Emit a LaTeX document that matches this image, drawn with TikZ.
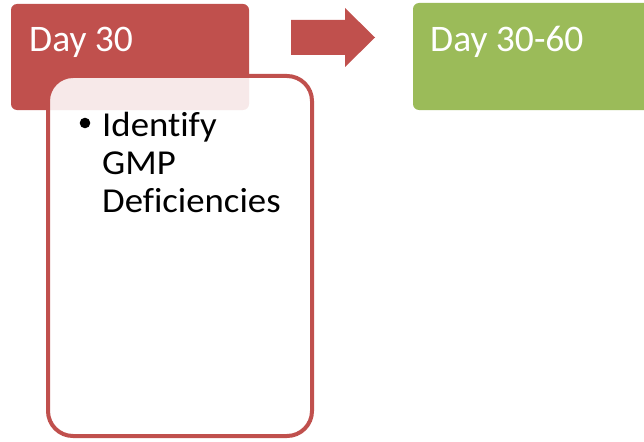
\documentclass[tikz,border=0pt]{standalone}
\usepackage{fontspec}
\setmainfont[Ligatures=NoCommon]{Carlito}
\newfontfamily\bodyfont[FakeStretch=1.05,Ligatures=NoCommon]{Carlito}
\definecolor{cred}{HTML}{C0504D}
\definecolor{cgreen}{HTML}{9BBB59}
\begin{document}
\begin{tikzpicture}[x=1pt,y=-1pt,
  hdr/.style={rounded corners=6pt,inner sep=0pt},
  hdrtext/.style={text=white,font=\fontsize{37.5}{40}\selectfont,anchor=base west,inner sep=0pt},
  body/.style={draw=cred,line width=4pt,fill=white,fill opacity=0.88,rounded corners=25pt},
  bodytext/.style={font=\bodyfont\fontsize{35}{38}\selectfont,anchor=base west,inner sep=0pt,align=left}]
\useasboundingbox (0,0) rectangle (644,441);
\fill[cred,hdr] (11,4) rectangle (249,110);
\fill[cgreen,hdr] (413,3) rectangle (660,110);
\node[hdrtext] (d1) at (29,52) {Day 30};
\node[hdrtext] (d2) at (430,52) {Day 30-60};
\draw[body] (48,76) rectangle (312,436);
\node[bodytext] (b) at (102,212) {Identify\\GMP\\Deficiencies};
\fill (85,123) circle (5.3);
\fill[cred] (291,20) -- (345,20) -- (345,8) -- (375,37.5) -- (345,67) -- (345,55) -- (291,55) -- cycle;
\end{tikzpicture}
\end{document}
